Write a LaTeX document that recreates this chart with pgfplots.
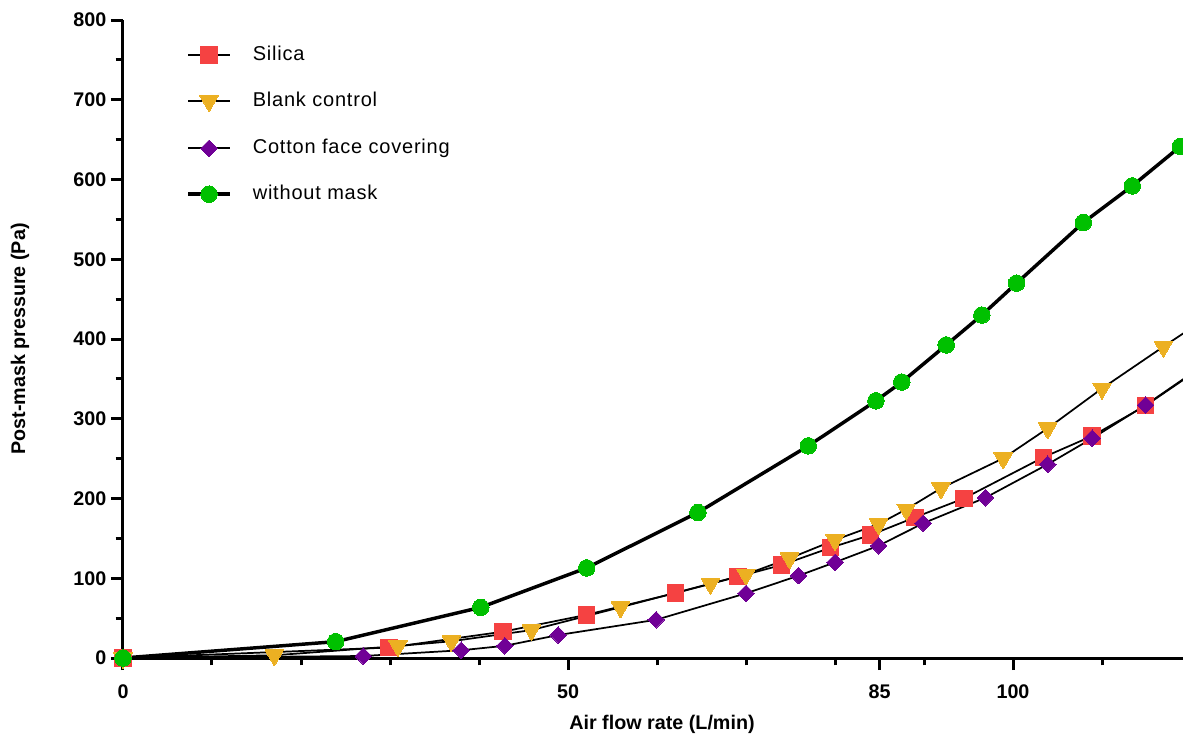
\documentclass[border=0pt]{standalone}
\usepackage{pgfplots}
\pgfplotsset{compat=1.18}
\usepackage{fontspec}
\setmainfont{Liberation Sans}
\newfontfamily\legfont[LetterSpace=4]{Liberation Sans}
\definecolor{cred}{RGB}{245,66,66}
\definecolor{cyel}{RGB}{236,176,34}
\definecolor{cpur}{RGB}{112,0,150}
\definecolor{cgrn}{RGB}{0,192,0}
\begin{document}
\begin{tikzpicture}[x=1pt,y=1pt]
\begin{axis}[
  at={(0,0)}, anchor=south west,
  width=795pt, height=478.5pt, scale only axis,
  xmin=0, xmax=119.1, ymin=0, ymax=800,
  axis x line=bottom, axis y line=left,
  axis line style={line width=2.25pt, -},
  tick align=outside,
  xtick={0,50,85,100},
  minor xtick={10,20,30,40,60,70,80,90,110},
  ytick={0,100,...,800},
  minor ytick={50,150,...,750},
  major tick length=9pt, minor tick length=5.5pt,
  every tick/.style={line width=2.25pt, black},
  /pgf/number format/assume math mode=true,
  tick label style={font=\fontsize{14.8}{17}\selectfont\bfseries},
  xticklabel style={yshift=-7.5pt},
  label style={font=\fontsize{14.8}{17}\selectfont\bfseries},
  xlabel={Air flow rate (L/min)},
  ylabel={Post-mask pressure (Pa)},
  x label style={at={(axis description cs:0.5085,-0.1035)}, anchor=center},
  y label style={at={(axis description cs:-0.0972,0.5)}, anchor=center},
  clip marker paths=false,
  legend cell align=left,
  legend style={draw=none, fill=none, at={(axis description cs:0.0557,0.964)}, anchor=north west,
    font=\fontsize{15}{18}\selectfont\legfont, row sep=20.4pt, column sep=15.75pt,
    nodes={inner sep=0pt, text height=11pt, text depth=3pt}},
  legend image code/.code={\draw[mark repeat=2,mark phase=2,#1] plot coordinates {(0pt,0pt) (15.75pt,0pt) (31.5pt,0pt)};},
]
\addplot[black, line width=1.3pt, mark=square*, mark size=6.2pt, mark options={fill=cred, draw=cred, line width=0pt}]
coordinates {(0,0) (29.9,13.1) (42.7,33) (52.1,54.2) (62.1,81.5) (69.1,102) (74.0,116.6) (79.5,138.3) (84.0,154.2) (89.0,176.4) (94.5,200.2) (103.4,251.6) (108.9,278.4) (114.9,316.5)};
\addlegendentry{Silica}
\addplot[black, line width=1.3pt, mark=triangle*, mark size=8pt, mark options={rotate=180, fill=cyel, draw=cyel, line width=0pt}]
coordinates {(0,0) (17.0,3.4) (30.9,15) (36.9,21) (45.9,35) (55.9,63.6) (66.0,93.2) (70.0,104.9) (74.9,125) (80.0,148) (84.9,168) (88.0,186.4) (91.9,212.8) (98.9,250.4) (103.9,288) (110.0,338) (116.9,390.4)};
\addlegendentry{Blank control}
\addplot[black, line width=1.3pt, mark=square*, mark size=4.4pt, mark options={rotate=45, fill=cpur, draw=cpur, line width=0pt}]
coordinates {(0,0) (27.0,2.5) (38.0,9.7) (42.9,15.3) (48.9,28.8) (59.9,47.9) (70.0,81.1) (75.9,103.2) (80.0,120) (84.9,140.8) (89.9,168.9) (96.9,201) (103.9,242.9) (108.9,275.5) (114.9,317.2)};
\addlegendentry{Cotton face covering}
\addplot[black, line width=2.6pt, mark=*, mark size=6.2pt, mark options={fill=cgrn, draw=cgrn, line width=0pt}]
coordinates {(0,0) (23.9,20.5) (40.2,63.5) (52.1,113) (64.6,182.5) (77.0,266) (84.6,322.5) (87.5,346) (92.5,392.5) (96.5,430) (100.4,470) (107.9,546) (113.4,592) (118.8,641.5)};
\addlegendentry{without mask}
\addplot[forget plot, black, line width=1.3pt, no markers] coordinates {(114.9,316.5) (121,363)};
\addplot[forget plot, black, line width=1.3pt, no markers] coordinates {(116.9,390.4) (121,421)};
\addplot[forget plot, black, line width=1.3pt, no markers] coordinates {(114.9,317.2) (121,364)};
\addplot[forget plot, black, line width=2.6pt, no markers] coordinates {(118.8,641.5) (121,662)};
\end{axis}
\pgfresetboundingbox
\path (-92.25pt,-56.25pt) rectangle (795pt,493.5pt);
\end{tikzpicture}
\end{document}
